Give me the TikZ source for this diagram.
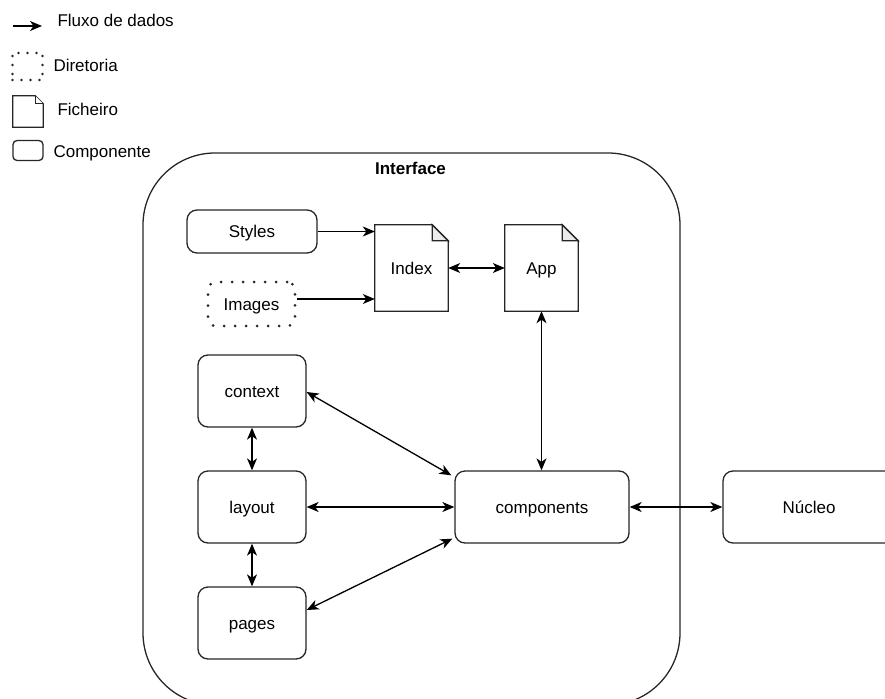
\documentclass[tikz,border=0pt]{standalone}
\usepackage{fontspec}
\setmainfont{Liberation Sans}
\usetikzlibrary{arrows.meta,positioning}

\tikzset{
  every node/.style={font=\fontsize{17}{20}\selectfont, text=black, text height=14pt, text depth=2pt},
  comp/.style={draw=black!85, line width=1.3pt, rounded corners=10pt, fill=white,
               minimum width=#1, minimum height=72pt, inner sep=0pt},
  comp/.default=108pt,
  dirbox/.style={draw=black!85, line width=3pt, line cap=round, dash pattern=on 0pt off 11pt,
                 rounded corners=8pt, minimum width=87pt, minimum height=44pt, inner sep=0pt},
  docbox/.style={minimum width=73pt, minimum height=86pt, inner sep=0pt},
  docline/.style={draw=black!85, line width=1.3pt, line join=miter, fill=white},
  foldfill/.style={draw=black!85, line width=1.3pt, fill=black!8},
  flow/.style={line width=1.3pt, -{Stealth[length=12pt,width=10pt,inset=3.5pt]}},
  flow2/.style={line width=1.3pt, {Stealth[length=12pt,width=10pt,inset=3.5pt]}-{Stealth[length=12pt,width=10pt,inset=3.5pt]}},
  container/.style={draw=black!85, line width=1.3pt, rounded corners=72pt,
                    minimum width=537pt, minimum height=552pt, inner sep=0pt},
}

\begin{document}
\begin{tikzpicture}[x=1pt, y=-1pt]
\useasboundingbox (0,0) rectangle (885,698);

% ---- legend ----
\coordinate (legA) at (13,26);
\coordinate (legB) at (42,26);
\draw[flow] (legA) -- (legB);
\node[anchor=west] (legflow) at (54,21) {Fluxo de dados};

\node[draw=black!85, line width=2.6pt, line cap=round, dash pattern=on 0pt off 9pt,
      minimum width=30pt, minimum height=27pt, inner sep=0pt] (legdir) at (27.5,66.5) {};
\node[anchor=west] (legdirt) at (50,66) {Diretoria};

\node[minimum width=30pt, minimum height=31pt, inner sep=0pt] (legdoc) at (28,111.5) {};
\draw[docline] (legdoc.south west) -- (legdoc.north west) -- ([xshift=-8pt]legdoc.north east)
  -- ([yshift=-8pt]legdoc.north east) -- (legdoc.south east) -- cycle;
\draw[docline] ([xshift=-8pt]legdoc.north east) -- ([xshift=-8pt,yshift=-8pt]legdoc.north east)
  -- ([yshift=-8pt]legdoc.north east);
\node[anchor=west] (legdoct) at (54,110) {Ficheiro};

\node[draw=black!85, line width=1.3pt, rounded corners=4pt,
      minimum width=30pt, minimum height=20pt, inner sep=0pt] (legcomp) at (28,150.5) {};
\node[anchor=west] (legcompt) at (50,151) {Componente};

% ---- Interface container ----
\node[container] (interface) at (411.5,429) {};
\node[font=\bfseries\fontsize{17}{20}\selectfont] (interfacet) at (410.5,168) {Interface};

% ---- inner elements ----
\node[comp=130pt, minimum height=43pt] (styles) at (252,231.5) {Styles};
\node[dirbox] (images) at (251.5,304) {Images};

\node[docbox] (index) at (411.5,268) {};
\node[docbox] (app) at (541.5,268) {};
\foreach \d in {index,app}{
  \draw[docline] (\d.south west) -- (\d.north west) -- ([xshift=-16pt]\d.north east)
    -- ([yshift=-16pt]\d.north east) -- (\d.south east) -- cycle;
  \draw[foldfill] ([xshift=-16pt]\d.north east) -- ([xshift=-16pt,yshift=-16pt]\d.north east)
    -- ([yshift=-16pt]\d.north east) -- cycle;
}
\node (indext) at (index.center) {Index};
\node (appt) at (app.center) {App};

\node[comp] (context) at (252,391) {context};
\node[comp] (layout) at (252,507) {layout};
\node[comp] (pages) at (252,623) {pages};
\node[comp=174pt] (components) at (542,507) {components};

\node[comp=172pt] (nucleo) at (809,507) {Núcleo};

% ---- connectors ----
\draw[flow] (styles.east) -- (index.west |- styles.east);
\coordinate (imgout) at ([yshift=5pt]images.east);
\draw[flow] (imgout) -- (index.west |- imgout);
\draw[flow2] (index.east) -- (app.west);
\draw[flow2] (app.south) -- (app.south |- components.north);
\draw[flow2] ([yshift=-1pt]context.east) -- ([xshift=-3pt,yshift=-5pt]components.north west);
\draw[flow2] (context.south) -- (layout.north);
\draw[flow2] (layout.east) -- (components.west);
\draw[flow2] (layout.south) -- (pages.north);
\draw[flow2] ([yshift=13pt]pages.east) -- ([xshift=-2pt,yshift=5pt]components.south west);
\draw[flow2] (components.east) -- (nucleo.west);
\end{tikzpicture}
\end{document}
